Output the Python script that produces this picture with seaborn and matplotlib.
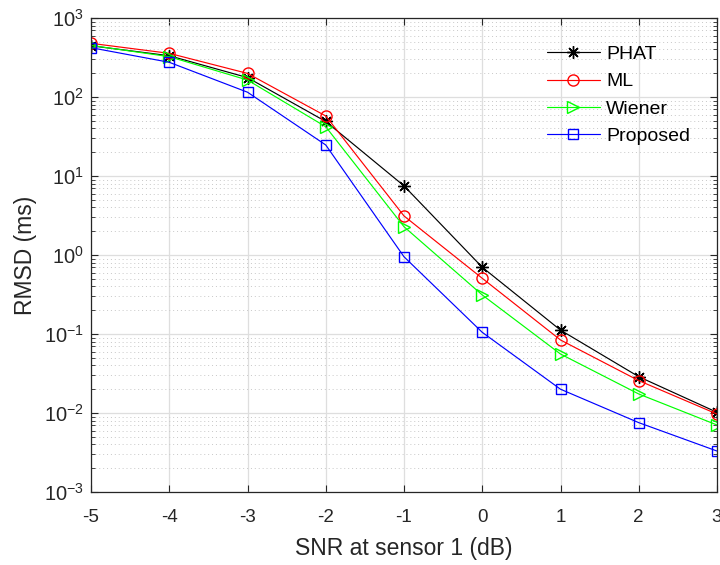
import numpy as np
import pandas as pd
import matplotlib
matplotlib.use("Agg")
import matplotlib.pyplot as plt
import seaborn as sns
from matplotlib.ticker import LogLocator, FixedLocator

snr = [-5, -4, -3, -2, -1, 0, 1, 2, 3]
phat = [445, 333, 176, 49, 7.5, 0.70, 0.112, 0.0288, 0.0102]
ml = [478, 357, 199, 57.5, 3.12, 0.507, 0.084, 0.0257, 0.0097]
wiener = [450, 324, 164, 42, 2.28, 0.312, 0.0558, 0.0174, 0.00705]
proposed = [421, 275, 115, 24.7, 0.95, 0.105, 0.020, 0.00755, 0.0033]

series_names = ["PHAT", "ML", "Wiener", "Proposed"]
series_vals = [phat, ml, wiener, proposed]
colors = ["#000000", "#ff0000", "#00ff00", "#0000ff"]
markers = [(8, 2, 0), "o", ">", "s"]
msizes = [9, 8, 8.5, 6.5]

sns.set_theme(style="white")
plt.rcParams["font.family"] = ["Liberation Sans", "DejaVu Sans"]
plt.rcParams["axes.unicode_minus"] = False
plt.rcParams["mathtext.fontset"] = "custom"
plt.rcParams["mathtext.rm"] = "Liberation Sans"
plt.rcParams["mathtext.it"] = "Liberation Sans"

df = pd.DataFrame({
    "snr": np.tile(snr, len(series_names)),
    "val": np.concatenate(series_vals),
    "method": np.repeat(series_names, len(snr)),
})

fig = plt.figure(figsize=(7.2, 5.65), dpi=100)
ax = fig.add_axes([91/720, 1 - 492/565, (717-91)/720, (492-18)/565])

for name, c, m, ms in zip(series_names, colors, markers, msizes):
    sub = df[df["method"] == name]
    sns.lineplot(data=sub, x="snr", y="val", ax=ax, color=c, marker=m,
                 markersize=ms, markerfacecolor="none",
                 markeredgecolor=c, markeredgewidth=1.0, linewidth=0.85,
                 label=name, estimator=None, sort=False)

ax.set_yscale("log")
ax.set_xlim(-5, 3)
ax.set_ylim(1e-3, 1e3)
ax.xaxis.set_major_locator(FixedLocator(snr))
ax.set_xticklabels([str(v) for v in snr])
ax.yaxis.set_major_locator(LogLocator(base=10, numticks=10))
ax.yaxis.set_minor_locator(LogLocator(base=10, subs=np.arange(2, 10), numticks=100))

ax.grid(True, which="major", color="#dedede", linewidth=0.9, linestyle="-")
ax.grid(True, which="minor", color="#c8c8c8", linewidth=0.7, linestyle=(0, (1, 3)))
ax.set_axisbelow(True)

ax.tick_params(which="both", direction="in", top=True, right=True,
               colors="#262626", bottom=True, left=True)
ax.tick_params(axis="x", which="major", labelsize=13.5, pad=12)
ax.tick_params(axis="y", which="major", labelsize=14.5, pad=5)
ax.tick_params(which="major", length=5, width=0.8)
ax.tick_params(which="minor", length=3, width=0.6)
for sp in ax.spines.values():
    sp.set_color("#262626")
    sp.set_linewidth(0.9)

ax.set_xlabel("SNR at sensor 1 (dB)", fontsize=16.5, color="#262626", labelpad=8)
ax.set_ylabel("RMSD (ms)", fontsize=16.5, color="#262626", labelpad=5)

leg = ax.legend(loc="upper left", bbox_to_anchor=(0.728, 0.942), frameon=False,
                fontsize=14, handlelength=2.75, handletextpad=0.3,
                labelspacing=0.5, borderpad=0, borderaxespad=0)
for t in leg.get_texts():
    t.set_color("#000000")

fig.savefig("out.png", dpi=100)
